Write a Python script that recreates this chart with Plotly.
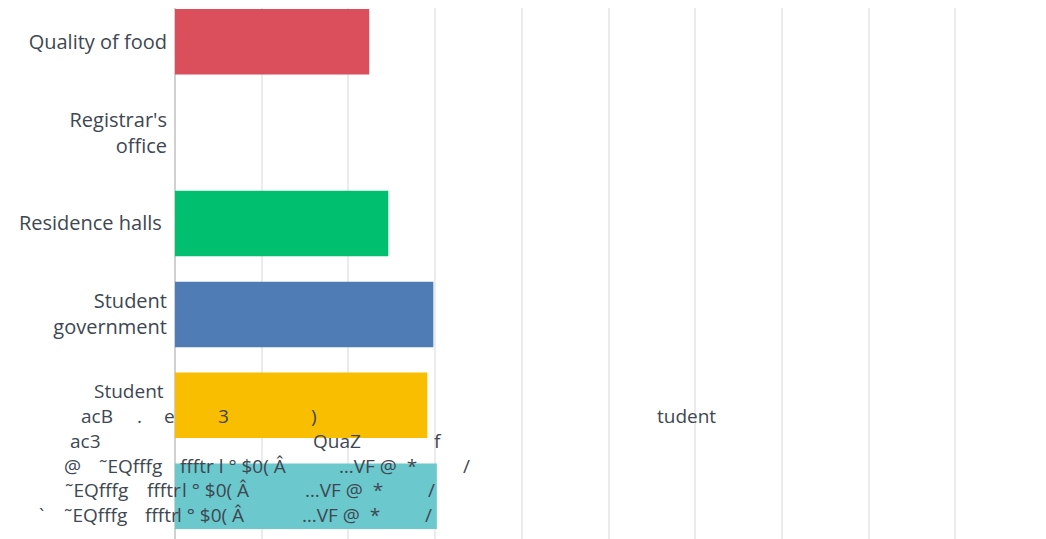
import plotly.graph_objects as go

categories = ["Quality of food", "Registrar's office", "Residence halls",
              "Student government", "Student services", "Other"]
tick_labels = ["Quality of food", "Registrar's<br>office", "Residence halls ",
               "Student<br>government", "", ""]
values = [22.4, 0, 24.6, 29.8, 29.1, 30.2]
colors = ["#DB4F5D", "#FFFFFF", "#00BF6F", "#507CB6", "#F9BE00", "#6BC8CD"]

# garbled label fragments as they appear in the picture (text, anchor px, centre y px, anchor side)
garbled = [
    ("Student", 166, 391, "right"),
    ("acB", 79, 416, "left"), (".", 135, 416, "left"), ("e", 162, 416, "left"),
    ("3", 216, 416, "left"), (")", 309, 416, "left"),
    ("tudent", 655, 416, "left"),
    ("ac3", 68, 441, "left"), ("QuaZ", 311, 441, "left"), ("f", 432, 441, "left"),
    ("@", 62, 466, "left"), ("˜EQfffg", 97, 466, "left"), ("ffftr l ° $0( Â", 178, 466, "left"),
    ("…VF @  *", 337, 466, "left"), ("/", 461, 466, "left"),
    ("˜EQfffg", 63, 490, "left"), ("ffftr", 145, 490, "left"), ("l ° $0( Â", 180, 490, "left"),
    ("…VF @  *", 303, 490, "left"), ("/", 426, 490, "left"),
    ("`", 37, 515, "left"), ("˜EQfffg", 62, 515, "left"), ("ffftr", 143, 515, "left"),
    ("l ° $0( Â", 175, 515, "left"), ("…VF @  *", 300, 515, "left"), ("/", 423, 515, "left"),
]

W, H = 1046, 539
ML, MR, MT, MB = 175, 4, 8, 0
PW, PH = W - ML - MR, H - MT - MB
FONT = "Open Sans"
TXT = "#3E4752"

fig = go.Figure(go.Bar(
    y=categories, x=values, orientation="h",
    marker=dict(color=colors, line=dict(width=0)),
    width=0.72, hoverinfo="skip",
))

annotations = []
for txt, px, py, side in garbled:
    annotations.append(dict(
        text=txt, xref="paper", yref="paper",
        x=(px - ML) / PW, y=1 - (py - MT) / PH,
        xanchor=side, yanchor="middle", showarrow=False,
        font=dict(family=FONT, size=19, color=TXT),
    ))

fig.update_layout(
    width=W, height=H, autosize=False,
    margin=dict(l=ML, r=MR, t=MT, b=MB, pad=0),
    plot_bgcolor="white", paper_bgcolor="white",
    showlegend=False,
    font=dict(family=FONT, size=20, color=TXT),
    xaxis=dict(range=[0, 100], dtick=10, showgrid=True, gridcolor="#EBEBEB",
               gridwidth=1.5, showticklabels=False, zeroline=True,
               zerolinecolor="#D0D0D0", zerolinewidth=2, showline=False,
               fixedrange=True),
    yaxis=dict(categoryorder="array", categoryarray=categories,
               range=[5.47, -0.37], tickmode="array", tickvals=categories,
               ticktext=tick_labels, ticks="", ticklabelstandoff=7,
               showgrid=False, showline=False, fixedrange=True,
               tickfont=dict(family=FONT, size=20, color=TXT)),
    annotations=annotations,
)

fig.write_html("out.html", config={"displayModeBar": False},
               post_script="document.body.style.margin='0';")
